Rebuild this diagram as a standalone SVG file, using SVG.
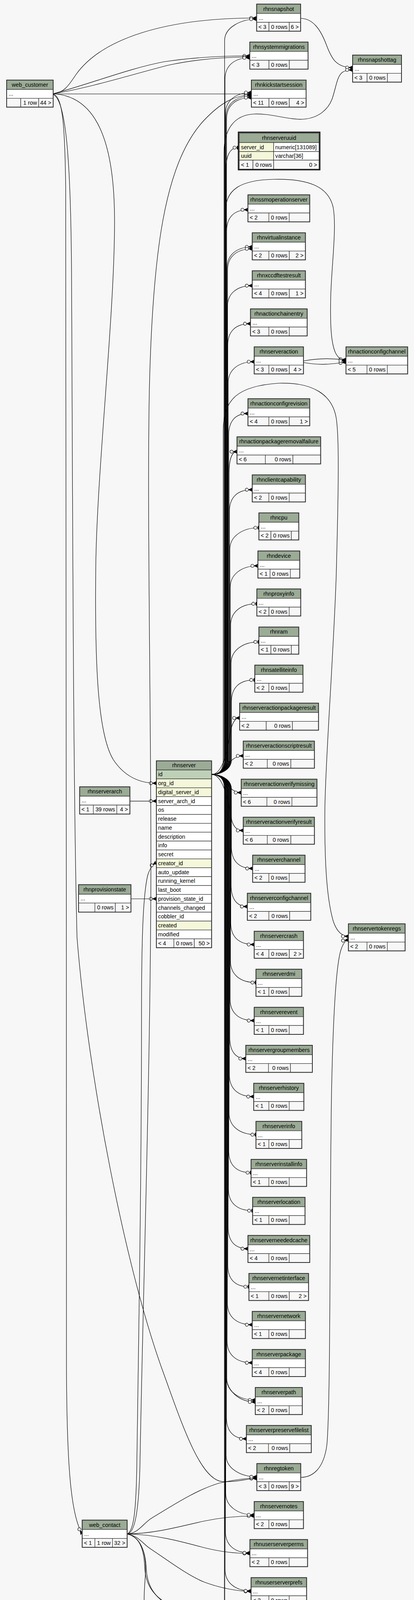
<svg xmlns="http://www.w3.org/2000/svg" width="1059" height="4361" viewBox="0 0 1059 4361">
<style>
.t{font-family:"Liberation Sans",Arial,Helvetica,sans-serif;font-size:14.3px;fill:#000}
.m{text-anchor:middle}
.r{text-anchor:end}
.h{fill:#9bab96;stroke:#2e2e2e;stroke-width:1.2}
.w{fill:#fff;stroke:#2e2e2e;stroke-width:1.2}
.f{fill:#f7f7f7;stroke:#2e2e2e;stroke-width:1.2}
.pk{fill:#bed1b8;stroke:#2e2e2e;stroke-width:1.2}
.ix{fill:#f4f7da;stroke:#2e2e2e;stroke-width:1.2}
.o{fill:none;stroke:#2e2e2e;stroke-width:2}
.e{fill:none;stroke:#000;stroke-width:1.2;marker-end:url(#crow)}
.te{fill:none;stroke:#000;stroke-width:1.2;marker-end:url(#tee)}
</style>
<defs>
<marker id="crow" markerUnits="userSpaceOnUse" viewBox="0 0 24 12" markerWidth="24" markerHeight="12" refX="24" refY="6" orient="auto">
<path d="M14,6 L24,1.5 L21.5,6 L24,10.5 Z M14,6 L24,6" fill="#000" stroke="#000" stroke-width="1"/>
<circle cx="10" cy="6" r="4" fill="#fff" stroke="#000" stroke-width="1.2"/>
</marker>
<marker id="tee" markerUnits="userSpaceOnUse" viewBox="0 0 24 12" markerWidth="24" markerHeight="12" refX="24" refY="6" orient="auto">
<circle cx="15" cy="6" r="4" fill="#fff" stroke="#000" stroke-width="1.2"/>
<rect x="21" y="1.5" width="3" height="9" fill="#000"/>
</marker>
</defs>
<rect width="1059" height="4361" fill="#f7f7f7"/>

<g id="connectors">
<path class="e" d="M136,240 C165,238 178,215 195,190 C260,100 420,46 656.5,46"/>
<path class="e" d="M136,240 C230,215 330,175 420,158 C500,146 580,143 639,143"/>
<path class="e" d="M136,240 C230,225 340,190 430,167 C510,150 580,146 639,146"/>
<path class="e" d="M136,240.5 L643,240.5"/>
<path class="e" d="M136,240 C230,245 292,330 293,560 C294,800 248,1200 245,1450 C242,1700 250,1880 290,1945 C320,1990 360,2005 400,2005"/>
<path class="e" d="M136,241 C160,245 166,320 168,480 C171,1000 169,2500 170,3500 C171,3760 182,3880 210.3,3927"/>
<path class="e" d="M136,242 C168,255 181,400 183,700 C186,1300 187,2000 197,2400 C225,2750 320,3250 420,3520 C470,3660 515,3790 570,3793 C605,3795 630,3785 657,3785"/>
<path class="e" d="M332.3,2050.8 L400,2050.8"/>
<path class="e" d="M335,2301 L400,2301"/>
<path class="e" d="M325.3,3927 C342,3920 348,3870 350,3750 C355,3400 362,3000 362,2600 C362,2400 366,2290 378,2240 C384,2222 390,2214 400,2208"/>
<path class="e" d="M325.3,3927 C345,3925 355,3870 358,3750 C366,3300 386,2700 386,2200 C386,1800 376,1300 382,1000 C390,650 420,420 520,310 C565,262 600,244 643,243"/>
<path class="e" d="M325.3,3927 C355,3925 365,3900 390,3885 C440,3855 500,3815 560,3797 C600,3788 630,3784 657,3784"/>
<path class="e" d="M325.3,3927 C400,3926 470,3905 522,3894 C570,3884 610,3881 650.3,3881"/>
<path class="e" d="M325.3,3927 C400,3928 470,3948 522,3962 C570,3974 610,3977 639.3,3977"/>
<path class="e" d="M325.3,3927 C355,3932 365,3952 385,3965 C430,3995 480,4033 522,4050 C565,4066 610,4074 642.3,4074"/>
<path class="e" d="M325.3,3927 C355,3932 368,3965 370,4010 C372,4055 390,4085 433,4108 C470,4130 500,4150 560,4165 C590,4170 608,4170 622.3,4170"/>
<path class="e" d="M325.3,3927 C358,3934 372,3970 374,4015 C376,4058 394,4090 437,4112 C474,4133 504,4154 562,4168 C592,4173 608,4173 622.3,4173"/>
<path class="e" d="M325.3,3927 C360,3935 375,3975 372,4030 C368,4090 363,4125 385,4160 C415,4205 470,4243 522,4258 C570,4270 620,4269 654.3,4269"/>
<path class="e" d="M769,47 C800,47 820,75 835,115 C848,150 860,173 902,173"/>
<path class="e" d="M776.3,924 C820,916 850,918 885,921"/>
<path class="e" d="M776.3,928 C820,936 850,932 885,927"/>
<path class="e" d="M769.3,3782 C800,3782 828,3760 836,3700 C846,3600 843,3100 848,2800 C852,2600 860,2470 872,2432 C878,2414 884,2407 891.3,2406"/>
<path class="e" d="M541.3,1982.6 C562,1982.6 573,1972 573,1945 L573,390 C573,330 600,295 648,292 C690,289 740,308 777,305 C815,302 840,280 850,252 C860,222 862,195 876,185 C883,180 891,179 902,179"/>
<path class="e" d="M541.3,1982.6 C562,1982.6 577,1972 577,1945 L577,540 C577,485 615,461 700,459 C790,457 840,478 852,530 C862,580 848,680 846,760 C844,840 848,880 858,903 C866,918 875,924 885,924"/>
<path class="e" d="M541.3,1982.6 C562,1982.6 571,1972 571,1945 L571,1100 C572,1022 608,988 713,981 C800,978 850,1010 860,1070 C868,1120 866,1250 860,1475 C852,1700 832,1950 831,2075 C830,2200 835,2300 853,2360 C862,2385 875,2397 891.3,2397"/>
<path class="e" d="M541.3,1982.6 C562,1982.6 574.5,1972 574.5,1945 L574.5,104 C574.5,71 614.5,49 656.5,49"/>
<path class="e" d="M541.3,1982.6 C562,1982.6 575.5,1972 575.5,1945 L575.5,203 C575.5,170 597,148 639,148"/>
<path class="e" d="M541.3,1982.6 C562,1982.6 576.5,1972 576.5,1945 L576.5,292 C576.5,259 601,237 643,237"/>
<path class="e" d="M541.3,1982.6 C562,1982.6 578,1972 578,1945 L578,301 C578,268 601,246 643,246"/>
<path class="e" d="M541.3,1982.6 C562,1982.6 579.5,1972 579.5,1945 L579.5,305 C579.5,272 601,250 643,250"/>
<path class="te" d="M541.3,1982.6 C562,1982.6 578,1972 578,1945 L578,433 C578,400 587.3,378 609,378"/>
<path class="e" d="M541.3,1982.6 C562,1982.6 579.6,1972 579.6,1945 L579.6,592 C579.6,559 596,537 634.3,537"/>
<path class="e" d="M541.3,1982.6 C562,1982.6 580.5,1972 580.5,1945 L580.5,687 C580.5,654 603.3,632 645.3,632"/>
<path class="e" d="M541.3,1982.6 C562,1982.6 582,1972 582,1945 L582,692 C582,659 603.3,637 645.3,637"/>
<path class="e" d="M541.3,1982.6 C562,1982.6 581.6,1972 581.6,1945 L581.6,786.3 C581.6,753.3 603.3,731.3 645.3,731.3"/>
<path class="e" d="M541.3,1982.6 C562,1982.6 582.6,1972 582.6,1945 L582.6,883.7 C582.6,850.7 600,828.7 640.7,828.7"/>
<path class="e" d="M541.3,1982.6 C562,1982.6 583.6,1972 583.6,1945 L583.6,981 C583.6,948 608.3,926 650.3,926"/>
<path class="e" d="M541.3,1982.6 C562,1982.6 585,1972 585,1945 L585,1113.7 C585,1080.7 599.8,1058.7 634.3,1058.7"/>
<path class="e" d="M541.3,1982.6 C562,1982.6 586,1972 586,1945 L586,1211.3 C586,1178.3 592.1,1156.3 606.3,1156.3"/>
<path class="e" d="M541.3,1982.6 C562,1982.6 587,1972 587,1945 L587,1308.7 C587,1275.7 604.5,1253.7 645.3,1253.7"/>
<path class="te" d="M541.3,1982.6 C562,1982.6 588,1972 588,1945 L588,1406 C588,1373 620.3,1351 662.3,1351"/>
<path class="e" d="M541.3,1982.6 C562,1982.6 589,1972 589,1945 L589,1503.5 C589,1470.5 617.7,1448.5 659.7,1448.5"/>
<path class="te" d="M541.3,1982.6 C562,1982.6 590,1972 590,1945 L590,1600.7 C590,1567.7 615,1545.7 657,1545.7"/>
<path class="te" d="M541.3,1982.6 C562,1982.6 591,1972 591,1945 L591,1698.3 C591,1665.3 620.3,1643.3 662.3,1643.3"/>
<path class="te" d="M541.3,1982.6 C562,1982.6 592,1972 592,1945 L592,1795.7 C592,1762.7 609.7,1740.7 651.7,1740.7"/>
<path class="e" d="M541.3,1982.6 C578,1982.6 586,1880 592,1862 C598,1844 604,1838 613,1838"/>
<path class="e" d="M541.3,1982.6 C578,1982.6 582,1935 622.3,1935"/>
<path class="e" d="M541.3,1982.6 C578,1982.6 580,2029 617,2029"/>
<path class="e" d="M541.3,1982.6 C578,1982.6 588,2085 594,2104 C600,2120 608,2126 622.3,2126"/>
<path class="e" d="M541.3,1982.6 C562,1982.6 592,1993 592,2020 L592,2168.3 C592,2201.3 608.3,2223.3 646.3,2223.3"/>
<path class="e" d="M541.3,1982.6 C562,1982.6 591.2,1993 591.2,2020 L591.2,2265.7 C591.2,2298.7 603.7,2320.7 632.7,2320.7"/>
<path class="e" d="M541.3,1982.6 C562,1982.6 590.3,1993 590.3,2020 L590.3,2363 C590.3,2396 608.3,2418 650.3,2418"/>
<path class="te" d="M541.3,1982.6 C562,1982.6 589.5,1993 589.5,2020 L589.5,2460.3 C589.5,2493.3 612.7,2515.3 654.7,2515.3"/>
<path class="e" d="M541.3,1982.6 C562,1982.6 588.6,1993 588.6,2020 L588.6,2557.7 C588.6,2590.7 608.3,2612.7 650.3,2612.7"/>
<path class="e" d="M541.3,1982.6 C562,1982.6 587.7,1993 587.7,2020 L587.7,2655 C587.7,2688 600,2710 628.7,2710"/>
<path class="e" d="M541.3,1982.6 C562,1982.6 586.9,1993 586.9,2020 L586.9,2752.3 C586.9,2785.3 607,2807.3 649,2807.3"/>
<path class="te" d="M541.3,1982.6 C562,1982.6 586,1993 586,2020 L586,2849.7 C586,2882.7 612.7,2904.7 654.7,2904.7"/>
<path class="te" d="M541.3,1982.6 C562,1982.6 585.2,1993 585.2,2020 L585.2,2947 C585.2,2980 602.3,3002 642.3,3002"/>
<path class="te" d="M541.3,1982.6 C562,1982.6 584.3,1993 584.3,2020 L584.3,3044.3 C584.3,3077.3 604.3,3099.3 646.3,3099.3"/>
<path class="e" d="M541.3,1982.6 C562,1982.6 583.5,1993 583.5,2020 L583.5,3141.7 C583.5,3174.7 598.7,3196.7 634.3,3196.7"/>
<path class="te" d="M541.3,1982.6 C562,1982.6 582.6,1993 582.6,2020 L582.6,3239 C582.6,3272 598.8,3294 636.7,3294"/>
<path class="e" d="M541.3,1982.6 C562,1982.6 581.7,1993 581.7,2020 L581.7,3336.3 C581.7,3369.3 603.3,3391.3 645.3,3391.3"/>
<path class="e" d="M541.3,1982.6 C562,1982.6 580.9,1993 580.9,2020 L580.9,3433.7 C580.9,3466.7 603.3,3488.7 645.3,3488.7"/>
<path class="e" d="M541.3,1982.6 C562,1982.6 580,1993 580,2020 L580,3529 C580,3562 611,3584 653,3584"/>
<path class="e" d="M541.3,1982.6 C562,1982.6 578.5,1993 578.5,2020 L578.5,3520 C578.5,3560 611,3589 653,3589"/>
<path class="e" d="M541.3,1982.6 C562,1982.6 579.2,1993 579.2,2020 L579.2,3628.3 C579.2,3661.3 594.5,3683.3 630.3,3683.3"/>
<path class="e" d="M541.3,1982.6 C562,1982.6 578.3,1993 578.3,2020 L578.3,3725.7 C578.3,3758.7 615,3780.7 657,3780.7"/>
<path class="e" d="M541.3,1982.6 C562,1982.6 577.4,1993 577.4,2020 L577.4,3823 C577.4,3856 608.3,3878 650.3,3878"/>
<path class="e" d="M541.3,1982.6 C562,1982.6 576.6,1993 576.6,2020 L576.6,3920.3 C576.6,3953.3 597.3,3975.3 639.3,3975.3"/>
<path class="e" d="M541.3,1982.6 C562,1982.6 575.7,1993 575.7,2020 L575.7,4017.7 C575.7,4050.7 600.3,4072.7 642.3,4072.7"/>
<path class="e" d="M541.3,1982.6 C562,1982.6 574.9,1993 574.9,2020 L574.9,4112 C574.9,4145 589.1,4167 622.3,4167"/>
<path class="e" d="M541.3,1982.6 C562,1982.6 574,1993 574,2020 L574,4212 C574,4245 612.3,4267 654.3,4267"/>
</g>

<g id="web_customer" transform="translate(17,205)"><rect class="h" width="119" height="24"/><rect class="w" y="24" width="119" height="22.6"/><rect class="f" y="46.6" width="36" height="22.7"/><rect class="f" x="36" y="46.6" width="46" height="22.7"/><rect class="f" x="82" y="46.6" width="37" height="22.7"/><rect class="o" width="119" height="69.3"/><text class="t m" x="59.5" y="17">web_customer</text><text class="t" x="5" y="40">...</text><text class="t r" x="77.5" y="63">1 row</text><text class="t r" x="114" y="63">44 &gt;</text></g>

<g id="rhnserverarch" transform="translate(203.7,2014.3)"><rect class="h" width="128.6" height="24"/><rect class="w" y="24" width="128.6" height="22.7"/><rect class="f" y="46.7" width="35" height="23"/><rect class="f" x="35" y="46.7" width="60" height="23"/><rect class="f" x="95" y="46.7" width="33.6" height="23"/><rect class="o" width="128.6" height="69.7"/><text class="t m" x="64.3" y="17">rhnserverarch</text><text class="t" x="5" y="40">...</text><text class="t" x="4.5" y="63.2">&lt; 1</text><text class="t r" x="90.5" y="63.2">39 rows</text><text class="t r" x="123.6" y="63.2">4 &gt;</text></g>

<g id="rhnprovisionstate" transform="translate(201,2264.7)"><rect class="h" width="134" height="24.6"/><rect class="w" y="24.6" width="134" height="22.4"/><rect class="f" y="47" width="41.7" height="23.3"/><rect class="f" x="41.7" y="47" width="52.3" height="23.3"/><rect class="f" x="94" y="47" width="40" height="23.3"/><rect class="o" width="134" height="70.3"/><text class="t m" x="67" y="17.5">rhnprovisionstate</text><text class="t" x="5" y="40.5">...</text><text class="t r" x="89.5" y="63.6">0 rows</text><text class="t r" x="129" y="63.6">1 &gt;</text></g>

<g id="web_contact" transform="translate(210.3,3891.5)"><rect class="h" width="115" height="24"/><rect class="w" y="24" width="115" height="23"/><rect class="f" y="47" width="32.4" height="22.7"/><rect class="f" x="32.4" y="47" width="45" height="22.7"/><rect class="f" x="77.4" y="47" width="37.6" height="22.7"/><rect class="o" width="115" height="69.7"/><text class="t m" x="57.5" y="17">web_contact</text><text class="t" x="5" y="40.3">...</text><text class="t" x="4.5" y="63.4">&lt; 1</text><text class="t r" x="72.9" y="63.4">1 row</text><text class="t r" x="110" y="63.4">32 &gt;</text></g>

<g id="rhnserver" transform="translate(400,1947.7)">
<rect class="h" width="141.3" height="23.5"/>
<rect class="pk" y="23.5" width="141.3" height="22.75"/>
<rect class="ix" y="46.25" width="141.3" height="22.75"/>
<rect class="ix" y="69" width="141.3" height="22.75"/>
<rect class="w" y="91.75" width="141.3" height="22.75"/>
<rect class="w" y="114.5" width="141.3" height="22.75"/>
<rect class="w" y="137.25" width="141.3" height="22.75"/>
<rect class="w" y="160" width="141.3" height="22.75"/>
<rect class="w" y="182.75" width="141.3" height="22.75"/>
<rect class="w" y="205.5" width="141.3" height="22.75"/>
<rect class="w" y="228.25" width="141.3" height="22.75"/>
<rect class="ix" y="251" width="141.3" height="22.75"/>
<rect class="w" y="273.75" width="141.3" height="22.75"/>
<rect class="w" y="296.5" width="141.3" height="22.75"/>
<rect class="w" y="319.25" width="141.3" height="22.75"/>
<rect class="w" y="342" width="141.3" height="22.75"/>
<rect class="w" y="364.75" width="141.3" height="22.75"/>
<rect class="w" y="387.5" width="141.3" height="22.75"/>
<rect class="ix" y="410.25" width="141.3" height="22.75"/>
<rect class="w" y="433" width="141.3" height="22.75"/>
<rect class="f" y="455.75" width="44.7" height="22.7"/>
<rect class="f" x="44.7" y="455.75" width="52.3" height="22.7"/>
<rect class="f" x="97" y="455.75" width="44.3" height="22.7"/>
<rect class="o" width="141.3" height="478.45"/>
<text class="t m" x="70.65" y="16.8">rhnserver</text>
<text class="t" x="4.5" y="39.8">id</text>
<text class="t" x="4.5" y="62.55">org_id</text>
<text class="t" x="4.5" y="85.3">digital_server_id</text>
<text class="t" x="4.5" y="108.05">server_arch_id</text>
<text class="t" x="4.5" y="130.8">os</text>
<text class="t" x="4.5" y="153.55">release</text>
<text class="t" x="4.5" y="176.3">name</text>
<text class="t" x="4.5" y="199.05">description</text>
<text class="t" x="4.5" y="221.8">info</text>
<text class="t" x="4.5" y="244.55">secret</text>
<text class="t" x="4.5" y="267.3">creator_id</text>
<text class="t" x="4.5" y="290.05">auto_update</text>
<text class="t" x="4.5" y="312.8">running_kernel</text>
<text class="t" x="4.5" y="335.55">last_boot</text>
<text class="t" x="4.5" y="358.3">provision_state_id</text>
<text class="t" x="4.5" y="381.05">channels_changed</text>
<text class="t" x="4.5" y="403.8">cobbler_id</text>
<text class="t" x="4.5" y="426.55">created</text>
<text class="t" x="4.5" y="449.3">modified</text>
<text class="t" x="4.5" y="472.05">&lt; 4</text>
<text class="t r" x="92.5" y="472.05">0 rows</text>
<text class="t r" x="136.3" y="472.05">50 &gt;</text>
</g>

<g id="rhnserveruuid" transform="translate(612,341)">
<rect class="h" width="204" height="24"/>
<rect class="ix" y="24" width="88" height="23"/><rect class="w" x="88" y="24" width="116" height="23"/>
<rect class="ix" y="47" width="88" height="22"/><rect class="w" x="88" y="47" width="116" height="22"/>
<rect class="f" y="69" width="35" height="23"/><rect class="f" x="35" y="69" width="53" height="23"/><rect class="f" x="88" y="69" width="116" height="23"/>
<rect x="-2" y="-2.5" width="208" height="96" fill="none" stroke="#1e1e1e" stroke-width="3.2"/>
<text class="t m" x="102" y="17">rhnserveruuid</text>
<text class="t" x="4.5" y="40.5">server_id</text><text class="t" x="92" y="40.5" textLength="106" lengthAdjust="spacingAndGlyphs">numeric[131089]</text>
<text class="t" x="4.5" y="63">uuid</text><text class="t" x="92" y="63">varchar[36]</text>
<text class="t" x="4.5" y="85.5">&lt; 1</text><text class="t r" x="83.5" y="85.5">0 rows</text><text class="t r" x="199" y="85.5">0 &gt;</text>
</g>

<g id="rhnsnapshot" transform="translate(656.5,10.5)"><rect class="h" width="112.5" height="24"/><rect class="w" y="24" width="112.5" height="22.6"/><rect class="f" y="46.6" width="31.5" height="22.7"/><rect class="f" x="31.5" y="46.6" width="52" height="22.7"/><rect class="f" x="83.5" y="46.6" width="29" height="22.7"/><rect class="o" width="112.5" height="69.3"/><text class="t m" x="56.25" y="17">rhnsnapshot</text><text class="t" x="5" y="40">...</text><text class="t" x="4.5" y="63">&lt; 3</text><text class="t r" x="79" y="63">0 rows</text><text class="t r" x="107.5" y="63">6 &gt;</text></g>

<g id="rhnsystemmigrations" transform="translate(639,107.7)"><rect class="h" width="149" height="24"/><rect class="w" y="24" width="149" height="22.6"/><rect class="f" y="46.6" width="49" height="22.7"/><rect class="f" x="49" y="46.6" width="52" height="22.7"/><rect class="f" x="101" y="46.6" width="48" height="22.7"/><rect class="o" width="149" height="69.3"/><text class="t m" x="74.5" y="17">rhnsystemmigrations</text><text class="t" x="5" y="40">...</text><text class="t" x="4.5" y="63">&lt; 3</text><text class="t r" x="96.5" y="63">0 rows</text></g>

<g id="rhnsnapshottag" transform="translate(902,141)"><rect class="h" width="125" height="24"/><rect class="w" y="24" width="125" height="22.6"/><rect class="f" y="46.6" width="37" height="22.7"/><rect class="f" x="37" y="46.6" width="52" height="22.7"/><rect class="f" x="89" y="46.6" width="36" height="22.7"/><rect class="o" width="125" height="69.3"/><text class="t m" x="62.5" y="17">rhnsnapshottag</text><text class="t" x="5" y="40">...</text><text class="t" x="4.5" y="63">&lt; 3</text><text class="t r" x="84.5" y="63">0 rows</text></g>

<g id="rhnkickstartsession" transform="translate(643,205)"><rect class="h" width="140" height="24"/><rect class="w" y="24" width="140" height="22.6"/><rect class="f" y="46.6" width="45" height="22.7"/><rect class="f" x="45" y="46.6" width="52" height="22.7"/><rect class="f" x="97" y="46.6" width="43" height="22.7"/><rect class="o" width="140" height="69.3"/><text class="t m" x="70" y="17">rhnkickstartsession</text><text class="t" x="5" y="40">...</text><text class="t" x="4.5" y="63">&lt; 11</text><text class="t r" x="92.5" y="63">0 rows</text><text class="t r" x="135" y="63">4 &gt;</text></g>

<g id="rhnssmoperationserver" transform="translate(634.3,498.7)"><rect class="h" width="158" height="24"/><rect class="w" y="24" width="158" height="22.6"/><rect class="f" y="46.6" width="53.4" height="22.7"/><rect class="f" x="53.4" y="46.6" width="52" height="22.7"/><rect class="f" x="105.4" y="46.6" width="52.6" height="22.7"/><rect class="o" width="158" height="69.3"/><text class="t m" x="79" y="17">rhnssmoperationserver</text><text class="t" x="5" y="40">...</text><text class="t" x="4.5" y="63">&lt; 2</text><text class="t r" x="100.9" y="63">0 rows</text></g>

<g id="rhnvirtualinstance" transform="translate(645.3,596)"><rect class="h" width="136" height="24"/><rect class="w" y="24" width="136" height="22.6"/><rect class="f" y="46.6" width="42.4" height="22.7"/><rect class="f" x="42.4" y="46.6" width="52.3" height="22.7"/><rect class="f" x="94.7" y="46.6" width="41.3" height="22.7"/><rect class="o" width="136" height="69.3"/><text class="t m" x="68" y="17">rhnvirtualinstance</text><text class="t" x="5" y="40">...</text><text class="t" x="4.5" y="63">&lt; 2</text><text class="t r" x="90.2" y="63">0 rows</text><text class="t r" x="131" y="63">2 &gt;</text></g>

<g id="rhnxccdftestresult" transform="translate(645.3,693.3)"><rect class="h" width="136" height="24"/><rect class="w" y="24" width="136" height="22.6"/><rect class="f" y="46.6" width="42.4" height="22.7"/><rect class="f" x="42.4" y="46.6" width="52.3" height="22.7"/><rect class="f" x="94.7" y="46.6" width="41.3" height="22.7"/><rect class="o" width="136" height="69.3"/><text class="t m" x="68" y="17">rhnxccdftestresult</text><text class="t" x="5" y="40">...</text><text class="t" x="4.5" y="63">&lt; 4</text><text class="t r" x="90.2" y="63">0 rows</text><text class="t r" x="131" y="63">1 &gt;</text></g>

<g id="rhnactionchainentry" transform="translate(640.7,790.7)"><rect class="h" width="145" height="24"/><rect class="w" y="24" width="145" height="22.6"/><rect class="f" y="46.6" width="47" height="22.7"/><rect class="f" x="47" y="46.6" width="52.3" height="22.7"/><rect class="f" x="99.3" y="46.6" width="45.7" height="22.7"/><rect class="o" width="145" height="69.3"/><text class="t m" x="72.5" y="17">rhnactionchainentry</text><text class="t" x="5" y="40">...</text><text class="t" x="4.5" y="63">&lt; 3</text><text class="t r" x="94.8" y="63">0 rows</text></g>

<g id="rhnserveraction" transform="translate(650.3,888)"><rect class="h" width="126" height="24"/><rect class="w" y="24" width="126" height="22.6"/><rect class="f" y="46.6" width="37.4" height="22.7"/><rect class="f" x="37.4" y="46.6" width="52.3" height="22.7"/><rect class="f" x="89.7" y="46.6" width="36.3" height="22.7"/><rect class="o" width="126" height="69.3"/><text class="t m" x="63" y="17">rhnserveraction</text><text class="t" x="5" y="40">...</text><text class="t" x="4.5" y="63">&lt; 3</text><text class="t r" x="85.2" y="63">0 rows</text><text class="t r" x="121" y="63">4 &gt;</text></g>

<g id="rhnactionconfigchannel" transform="translate(885,888)"><rect class="h" width="157.7" height="24"/><rect class="w" y="24" width="157.7" height="22.6"/><rect class="f" y="46.6" width="53.7" height="22.7"/><rect class="f" x="53.7" y="46.6" width="52" height="22.7"/><rect class="f" x="105.7" y="46.6" width="52" height="22.7"/><rect class="o" width="157.7" height="69.3"/><text class="t m" x="78.85" y="17">rhnactionconfigchannel</text><text class="t" x="5" y="40">...</text><text class="t" x="4.5" y="63">&lt; 5</text><text class="t r" x="101.2" y="63">0 rows</text></g>

<g id="rhnactionconfigrevision" transform="translate(634.3,1020.7)"><rect class="h" width="158" height="24"/><rect class="w" y="24" width="158" height="22.6"/><rect class="f" y="46.6" width="53.4" height="22.7"/><rect class="f" x="53.4" y="46.6" width="52.3" height="22.7"/><rect class="f" x="105.7" y="46.6" width="52.3" height="22.7"/><rect class="o" width="158" height="69.3"/><text class="t m" x="79" y="17">rhnactionconfigrevision</text><text class="t" x="5" y="40">...</text><text class="t" x="4.5" y="63">&lt; 4</text><text class="t r" x="101.2" y="63">0 rows</text><text class="t r" x="153" y="63">1 &gt;</text></g>

<g id="rhnactionpackageremovalfailure" transform="translate(606.3,1118.3)"><rect class="h" width="214" height="24"/><rect class="w" y="24" width="214" height="22.6"/><rect class="f" y="46.6" width="72.4" height="22.7"/><rect class="f" x="72.4" y="46.6" width="70.6" height="22.7"/><rect class="f" x="143" y="46.6" width="71" height="22.7"/><rect class="o" width="214" height="69.3"/><text class="t m" x="107" y="17">rhnactionpackageremovalfailure</text><text class="t" x="5" y="40">...</text><text class="t" x="4.5" y="63">&lt; 6</text><text class="t r" x="138.5" y="63">0 rows</text></g>

<g id="rhnclientcapability" transform="translate(645.3,1215.7)"><rect class="h" width="136" height="24"/><rect class="w" y="24" width="136" height="22.6"/><rect class="f" y="46.6" width="42.4" height="22.7"/><rect class="f" x="42.4" y="46.6" width="52" height="22.7"/><rect class="f" x="94.4" y="46.6" width="41.6" height="22.7"/><rect class="o" width="136" height="69.3"/><text class="t m" x="68" y="17">rhnclientcapability</text><text class="t" x="5" y="40">...</text><text class="t" x="4.5" y="63">&lt; 2</text><text class="t r" x="89.9" y="63">0 rows</text></g>

<g id="rhncpu" transform="translate(662.3,1313)"><rect class="h" width="102" height="24"/><rect class="w" y="24" width="102" height="22.6"/><rect class="f" y="46.6" width="30.7" height="22.7"/><rect class="f" x="30.7" y="46.6" width="52.3" height="22.7"/><rect class="f" x="83" y="46.6" width="19" height="22.7"/><rect class="o" width="102" height="69.3"/><text class="t m" x="51" y="17">rhncpu</text><text class="t" x="5" y="40">...</text><text class="t" x="4.5" y="63">&lt; 2</text><text class="t r" x="78.5" y="63">0 rows</text></g>

<g id="rhndevice" transform="translate(659.7,1410.5)"><rect class="h" width="107" height="24"/><rect class="w" y="24" width="107" height="22.6"/><rect class="f" y="46.6" width="31" height="22.7"/><rect class="f" x="31" y="46.6" width="52" height="22.7"/><rect class="f" x="83" y="46.6" width="24" height="22.7"/><rect class="o" width="107" height="69.3"/><text class="t m" x="53.5" y="17">rhndevice</text><text class="t" x="5" y="40">...</text><text class="t" x="4.5" y="63">&lt; 1</text><text class="t r" x="78.5" y="63">0 rows</text></g>

<g id="rhnproxyinfo" transform="translate(657,1507.7)"><rect class="h" width="112.3" height="24"/><rect class="w" y="24" width="112.3" height="22.6"/><rect class="f" y="46.6" width="31" height="22.7"/><rect class="f" x="31" y="46.6" width="51.7" height="22.7"/><rect class="f" x="82.7" y="46.6" width="29.6" height="22.7"/><rect class="o" width="112.3" height="69.3"/><text class="t m" x="56.15" y="17">rhnproxyinfo</text><text class="t" x="5" y="40">...</text><text class="t" x="4.5" y="63">&lt; 2</text><text class="t r" x="78.2" y="63">0 rows</text></g>

<g id="rhnram" transform="translate(662.3,1605.3)"><rect class="h" width="102" height="24"/><rect class="w" y="24" width="102" height="22.6"/><rect class="f" y="46.6" width="30.7" height="22.7"/><rect class="f" x="30.7" y="46.6" width="52.3" height="22.7"/><rect class="f" x="83" y="46.6" width="19" height="22.7"/><rect class="o" width="102" height="69.3"/><text class="t m" x="51" y="17">rhnram</text><text class="t" x="5" y="40">...</text><text class="t" x="4.5" y="63">&lt; 1</text><text class="t r" x="78.5" y="63">0 rows</text></g>

<g id="rhnsatelliteinfo" transform="translate(651.7,1702.7)"><rect class="h" width="123.3" height="24"/><rect class="w" y="24" width="123.3" height="22.6"/><rect class="f" y="46.6" width="36" height="22.7"/><rect class="f" x="36" y="46.6" width="52" height="22.7"/><rect class="f" x="88" y="46.6" width="35.3" height="22.7"/><rect class="o" width="123.3" height="69.3"/><text class="t m" x="61.65" y="17">rhnsatelliteinfo</text><text class="t" x="5" y="40">...</text><text class="t" x="4.5" y="63">&lt; 2</text><text class="t r" x="83.5" y="63">0 rows</text></g>

<g id="rhnserveractionpackageresult" transform="translate(613,1800)"><rect class="h" width="201.7" height="24"/><rect class="w" y="24" width="201.7" height="22.6"/><rect class="f" y="46.6" width="68" height="22.7"/><rect class="f" x="68" y="46.6" width="67" height="22.7"/><rect class="f" x="135" y="46.6" width="66.7" height="22.7"/><rect class="o" width="201.7" height="69.3"/><text class="t m" x="100.85" y="17">rhnserveractionpackageresult</text><text class="t" x="5" y="40">...</text><text class="t" x="4.5" y="63">&lt; 2</text><text class="t r" x="130.5" y="63">0 rows</text></g>

<g id="rhnserveractionscriptresult" transform="translate(622.3,1897.3)"><rect class="h" width="182" height="24"/><rect class="w" y="24" width="182" height="22.6"/><rect class="f" y="46.6" width="61.4" height="22.7"/><rect class="f" x="61.4" y="46.6" width="60.3" height="22.7"/><rect class="f" x="121.7" y="46.6" width="60.3" height="22.7"/><rect class="o" width="182" height="69.3"/><text class="t m" x="91" y="17">rhnserveractionscriptresult</text><text class="t" x="5" y="40">...</text><text class="t" x="4.5" y="63">&lt; 2</text><text class="t r" x="117.2" y="63">0 rows</text></g>

<g id="rhnserveractionverifymissing" transform="translate(617,1994.7)"><rect class="h" width="193.7" height="24"/><rect class="w" y="24" width="193.7" height="22.6"/><rect class="f" y="46.6" width="65.7" height="22.7"/><rect class="f" x="65.7" y="46.6" width="64" height="22.7"/><rect class="f" x="129.7" y="46.6" width="64" height="22.7"/><rect class="o" width="193.7" height="69.3"/><text class="t m" x="96.85" y="17">rhnserveractionverifymissing</text><text class="t" x="5" y="40">...</text><text class="t" x="4.5" y="63">&lt; 6</text><text class="t r" x="125.2" y="63">0 rows</text></g>

<g id="rhnserveractionverifyresult" transform="translate(622.3,2092)"><rect class="h" width="182" height="24"/><rect class="w" y="24" width="182" height="22.6"/><rect class="f" y="46.6" width="61.4" height="22.7"/><rect class="f" x="61.4" y="46.6" width="60.3" height="22.7"/><rect class="f" x="121.7" y="46.6" width="60.3" height="22.7"/><rect class="o" width="182" height="69.3"/><text class="t m" x="91" y="17">rhnserveractionverifyresult</text><text class="t" x="5" y="40">...</text><text class="t" x="4.5" y="63">&lt; 6</text><text class="t r" x="117.2" y="63">0 rows</text></g>

<g id="rhnserverchannel" transform="translate(646.3,2189.3)"><rect class="h" width="134" height="24"/><rect class="w" y="24" width="134" height="22.6"/><rect class="f" y="46.6" width="41.4" height="22.7"/><rect class="f" x="41.4" y="46.6" width="52" height="22.7"/><rect class="f" x="93.4" y="46.6" width="40.6" height="22.7"/><rect class="o" width="134" height="69.3"/><text class="t m" x="67" y="17">rhnserverchannel</text><text class="t" x="5" y="40">...</text><text class="t" x="4.5" y="63">&lt; 2</text><text class="t r" x="88.9" y="63">0 rows</text></g>

<g id="rhnserverconfigchannel" transform="translate(632.7,2286.7)"><rect class="h" width="162.3" height="24"/><rect class="w" y="24" width="162.3" height="22.6"/><rect class="f" y="46.6" width="55" height="22.7"/><rect class="f" x="55" y="46.6" width="53.3" height="22.7"/><rect class="f" x="108.3" y="46.6" width="54" height="22.7"/><rect class="o" width="162.3" height="69.3"/><text class="t m" x="81.15" y="17">rhnserverconfigchannel</text><text class="t" x="5" y="40">...</text><text class="t" x="4.5" y="63">&lt; 2</text><text class="t r" x="103.8" y="63">0 rows</text></g>

<g id="rhnservercrash" transform="translate(650.3,2384)"><rect class="h" width="126" height="24"/><rect class="w" y="24" width="126" height="22.6"/><rect class="f" y="46.6" width="37.4" height="22.7"/><rect class="f" x="37.4" y="46.6" width="52.3" height="22.7"/><rect class="f" x="89.7" y="46.6" width="36.3" height="22.7"/><rect class="o" width="126" height="69.3"/><text class="t m" x="63" y="17">rhnservercrash</text><text class="t" x="5" y="40">...</text><text class="t" x="4.5" y="63">&lt; 4</text><text class="t r" x="85.2" y="63">0 rows</text><text class="t r" x="121" y="63">2 &gt;</text></g>

<g id="rhnservertokenregs" transform="translate(891.3,2365)"><rect class="h" width="145" height="24"/><rect class="w" y="24" width="145" height="22.6"/><rect class="f" y="46.6" width="47.4" height="22.7"/><rect class="f" x="47.4" y="46.6" width="52" height="22.7"/><rect class="f" x="99.4" y="46.6" width="45.6" height="22.7"/><rect class="o" width="145" height="69.3"/><text class="t m" x="72.5" y="17">rhnservertokenregs</text><text class="t" x="5" y="40">...</text><text class="t" x="4.5" y="63">&lt; 2</text><text class="t r" x="94.9" y="63">0 rows</text></g>

<g id="rhnserverdmi" transform="translate(654.7,2481.3)"><rect class="h" width="117.3" height="24"/><rect class="w" y="24" width="117.3" height="22.6"/><rect class="f" y="46.6" width="33" height="22.7"/><rect class="f" x="33" y="46.6" width="52" height="22.7"/><rect class="f" x="85" y="46.6" width="32.3" height="22.7"/><rect class="o" width="117.3" height="69.3"/><text class="t m" x="58.65" y="17">rhnserverdmi</text><text class="t" x="5" y="40">...</text><text class="t" x="4.5" y="63">&lt; 1</text><text class="t r" x="80.5" y="63">0 rows</text></g>

<g id="rhnserverevent" transform="translate(650.3,2578.7)"><rect class="h" width="126" height="24"/><rect class="w" y="24" width="126" height="22.6"/><rect class="f" y="46.6" width="37.4" height="22.7"/><rect class="f" x="37.4" y="46.6" width="52" height="22.7"/><rect class="f" x="89.4" y="46.6" width="36.6" height="22.7"/><rect class="o" width="126" height="69.3"/><text class="t m" x="63" y="17">rhnserverevent</text><text class="t" x="5" y="40">...</text><text class="t" x="4.5" y="63">&lt; 1</text><text class="t r" x="84.9" y="63">0 rows</text></g>

<g id="rhnservergroupmembers" transform="translate(628.7,2676)"><rect class="h" width="170.3" height="24"/><rect class="w" y="24" width="170.3" height="22.6"/><rect class="f" y="46.6" width="58" height="22.7"/><rect class="f" x="58" y="46.6" width="56.3" height="22.7"/><rect class="f" x="114.3" y="46.6" width="56" height="22.7"/><rect class="o" width="170.3" height="69.3"/><text class="t m" x="85.15" y="17">rhnservergroupmembers</text><text class="t" x="5" y="40">...</text><text class="t" x="4.5" y="63">&lt; 2</text><text class="t r" x="109.8" y="63">0 rows</text></g>

<g id="rhnserverhistory" transform="translate(649,2773.3)"><rect class="h" width="128.3" height="24"/><rect class="w" y="24" width="128.3" height="22.6"/><rect class="f" y="46.6" width="38.7" height="22.7"/><rect class="f" x="38.7" y="46.6" width="52" height="22.7"/><rect class="f" x="90.7" y="46.6" width="37.6" height="22.7"/><rect class="o" width="128.3" height="69.3"/><text class="t m" x="64.15" y="17">rhnserverhistory</text><text class="t" x="5" y="40">...</text><text class="t" x="4.5" y="63">&lt; 1</text><text class="t r" x="86.2" y="63">0 rows</text></g>

<g id="rhnserverinfo" transform="translate(654.7,2870.7)"><rect class="h" width="117.3" height="24"/><rect class="w" y="24" width="117.3" height="22.6"/><rect class="f" y="46.6" width="33" height="22.7"/><rect class="f" x="33" y="46.6" width="52" height="22.7"/><rect class="f" x="85" y="46.6" width="32.3" height="22.7"/><rect class="o" width="117.3" height="69.3"/><text class="t m" x="58.65" y="17">rhnserverinfo</text><text class="t" x="5" y="40">...</text><text class="t" x="4.5" y="63">&lt; 1</text><text class="t r" x="80.5" y="63">0 rows</text></g>

<g id="rhnserverinstallinfo" transform="translate(642.3,2968)"><rect class="h" width="142" height="24"/><rect class="w" y="24" width="142" height="22.6"/><rect class="f" y="46.6" width="45.4" height="22.7"/><rect class="f" x="45.4" y="46.6" width="52" height="22.7"/><rect class="f" x="97.4" y="46.6" width="44.6" height="22.7"/><rect class="o" width="142" height="69.3"/><text class="t m" x="71" y="17">rhnserverinstallinfo</text><text class="t" x="5" y="40">...</text><text class="t" x="4.5" y="63">&lt; 1</text><text class="t r" x="92.9" y="63">0 rows</text></g>

<g id="rhnserverlocation" transform="translate(646.3,3065.3)"><rect class="h" width="134" height="24"/><rect class="w" y="24" width="134" height="22.6"/><rect class="f" y="46.6" width="41.4" height="22.7"/><rect class="f" x="41.4" y="46.6" width="52" height="22.7"/><rect class="f" x="93.4" y="46.6" width="40.6" height="22.7"/><rect class="o" width="134" height="69.3"/><text class="t m" x="67" y="17">rhnserverlocation</text><text class="t" x="5" y="40">...</text><text class="t" x="4.5" y="63">&lt; 1</text><text class="t r" x="88.9" y="63">0 rows</text></g>

<g id="rhnserverneededcache" transform="translate(634.3,3162.7)"><rect class="h" width="158" height="24"/><rect class="w" y="24" width="158" height="22.6"/><rect class="f" y="46.6" width="53.4" height="22.7"/><rect class="f" x="53.4" y="46.6" width="52" height="22.7"/><rect class="f" x="105.4" y="46.6" width="52.6" height="22.7"/><rect class="o" width="158" height="69.3"/><text class="t m" x="79" y="17">rhnserverneededcache</text><text class="t" x="5" y="40">...</text><text class="t" x="4.5" y="63">&lt; 4</text><text class="t r" x="100.9" y="63">0 rows</text></g>

<g id="rhnservernetinterface" transform="translate(636.7,3260)"><rect class="h" width="152.6" height="24"/><rect class="w" y="24" width="152.6" height="22.6"/><rect class="f" y="46.6" width="51" height="22.7"/><rect class="f" x="51" y="46.6" width="52.3" height="22.7"/><rect class="f" x="103.3" y="46.6" width="49.3" height="22.7"/><rect class="o" width="152.6" height="69.3"/><text class="t m" x="76.3" y="17">rhnservernetinterface</text><text class="t" x="5" y="40">...</text><text class="t" x="4.5" y="63">&lt; 1</text><text class="t r" x="98.8" y="63">0 rows</text><text class="t r" x="147.6" y="63">2 &gt;</text></g>

<g id="rhnservernetwork" transform="translate(645.3,3357.3)"><rect class="h" width="136" height="24"/><rect class="w" y="24" width="136" height="22.6"/><rect class="f" y="46.6" width="42.4" height="22.7"/><rect class="f" x="42.4" y="46.6" width="52" height="22.7"/><rect class="f" x="94.4" y="46.6" width="41.6" height="22.7"/><rect class="o" width="136" height="69.3"/><text class="t m" x="68" y="17">rhnservernetwork</text><text class="t" x="5" y="40">...</text><text class="t" x="4.5" y="63">&lt; 1</text><text class="t r" x="89.9" y="63">0 rows</text></g>

<g id="rhnserverpackage" transform="translate(645.3,3454.7)"><rect class="h" width="136" height="24"/><rect class="w" y="24" width="136" height="22.6"/><rect class="f" y="46.6" width="42.4" height="22.7"/><rect class="f" x="42.4" y="46.6" width="52" height="22.7"/><rect class="f" x="94.4" y="46.6" width="41.6" height="22.7"/><rect class="o" width="136" height="69.3"/><text class="t m" x="68" y="17">rhnserverpackage</text><text class="t" x="5" y="40">...</text><text class="t" x="4.5" y="63">&lt; 4</text><text class="t r" x="89.9" y="63">0 rows</text></g>

<g id="rhnserverpath" transform="translate(653,3552)"><rect class="h" width="120.3" height="24"/><rect class="w" y="24" width="120.3" height="22.6"/><rect class="f" y="46.6" width="34.7" height="22.7"/><rect class="f" x="34.7" y="46.6" width="52" height="22.7"/><rect class="f" x="86.7" y="46.6" width="33.6" height="22.7"/><rect class="o" width="120.3" height="69.3"/><text class="t m" x="60.15" y="17">rhnserverpath</text><text class="t" x="5" y="40">...</text><text class="t" x="4.5" y="63">&lt; 2</text><text class="t r" x="82.2" y="63">0 rows</text></g>

<g id="rhnserverpreservefilelist" transform="translate(630.3,3649.3)"><rect class="h" width="166" height="24"/><rect class="w" y="24" width="166" height="22.6"/><rect class="f" y="46.6" width="56.4" height="22.7"/><rect class="f" x="56.4" y="46.6" width="54.6" height="22.7"/><rect class="f" x="111" y="46.6" width="55" height="22.7"/><rect class="o" width="166" height="69.3"/><text class="t m" x="83" y="17">rhnserverpreservefilelist</text><text class="t" x="5" y="40">...</text><text class="t" x="4.5" y="63">&lt; 2</text><text class="t r" x="106.5" y="63">0 rows</text></g>

<g id="rhnregtoken" transform="translate(657,3746.7)"><rect class="h" width="112.3" height="24"/><rect class="w" y="24" width="112.3" height="22.6"/><rect class="f" y="46.6" width="30.7" height="22.7"/><rect class="f" x="30.7" y="46.6" width="52.3" height="22.7"/><rect class="f" x="83" y="46.6" width="29.3" height="22.7"/><rect class="o" width="112.3" height="69.3"/><text class="t m" x="56.15" y="17">rhnregtoken</text><text class="t" x="5" y="40">...</text><text class="t" x="4.5" y="63">&lt; 3</text><text class="t r" x="78.5" y="63">0 rows</text><text class="t r" x="107.3" y="63">9 &gt;</text></g>

<g id="rhnservernotes" transform="translate(650.3,3844)"><rect class="h" width="126" height="24"/><rect class="w" y="24" width="126" height="22.6"/><rect class="f" y="46.6" width="37.4" height="22.7"/><rect class="f" x="37.4" y="46.6" width="52" height="22.7"/><rect class="f" x="89.4" y="46.6" width="36.6" height="22.7"/><rect class="o" width="126" height="69.3"/><text class="t m" x="63" y="17">rhnservernotes</text><text class="t" x="5" y="40">...</text><text class="t" x="4.5" y="63">&lt; 2</text><text class="t r" x="84.9" y="63">0 rows</text></g>

<g id="rhnuserserverperms" transform="translate(639.3,3941.3)"><rect class="h" width="147.4" height="24"/><rect class="w" y="24" width="147.4" height="22.6"/><rect class="f" y="46.6" width="48.4" height="22.7"/><rect class="f" x="48.4" y="46.6" width="52" height="22.7"/><rect class="f" x="100.4" y="46.6" width="47" height="22.7"/><rect class="o" width="147.4" height="69.3"/><text class="t m" x="73.7" y="17">rhnuserserverperms</text><text class="t" x="5" y="40">...</text><text class="t" x="4.5" y="63">&lt; 2</text><text class="t r" x="95.9" y="63">0 rows</text></g>

<g id="rhnuserserverprefs" transform="translate(642.3,4038.7)"><rect class="h" width="142" height="24"/><rect class="w" y="24" width="142" height="22.6"/><rect class="f" y="46.6" width="45.4" height="22.7"/><rect class="f" x="45.4" y="46.6" width="52" height="22.7"/><rect class="f" x="97.4" y="46.6" width="44.6" height="22.7"/><rect class="o" width="142" height="69.3"/><text class="t m" x="71" y="17">rhnuserserverprefs</text><text class="t" x="5" y="40">...</text><text class="t" x="4.5" y="63">&lt; 2</text><text class="t r" x="92.9" y="63">0 rows</text></g>

<g id="rhnservercustomdatavalue" transform="translate(622.3,4136)"><rect class="h" width="182" height="24"/><rect class="w" y="24" width="182" height="22.6"/><rect class="f" y="46.6" width="61.4" height="22.7"/><rect class="f" x="61.4" y="46.6" width="60.3" height="22.7"/><rect class="f" x="121.7" y="46.6" width="60.3" height="22.7"/><rect class="o" width="182" height="69.3"/><text class="t m" x="91" y="17">rhnservercustomdatavalue</text><text class="t" x="5" y="40">...</text><text class="t" x="4.5" y="63">&lt; 4</text><text class="t r" x="117.2" y="63">0 rows</text></g>

<g id="rhnserverlock" transform="translate(654.3,4233.3)"><rect class="h" width="117.7" height="24"/><rect class="w" y="24" width="117.7" height="22.6"/><rect class="f" y="46.6" width="33.4" height="22.7"/><rect class="f" x="33.4" y="46.6" width="52" height="22.7"/><rect class="f" x="85.4" y="46.6" width="32.3" height="22.7"/><rect class="o" width="117.7" height="69.3"/><text class="t m" x="58.85" y="17">rhnserverlock</text><text class="t" x="5" y="40">...</text><text class="t" x="4.5" y="63">&lt; 2</text><text class="t r" x="80.9" y="63">0 rows</text></g>

<text class="t" x="16.7" y="4344">Generated by SchemaSpy</text>
</svg>
